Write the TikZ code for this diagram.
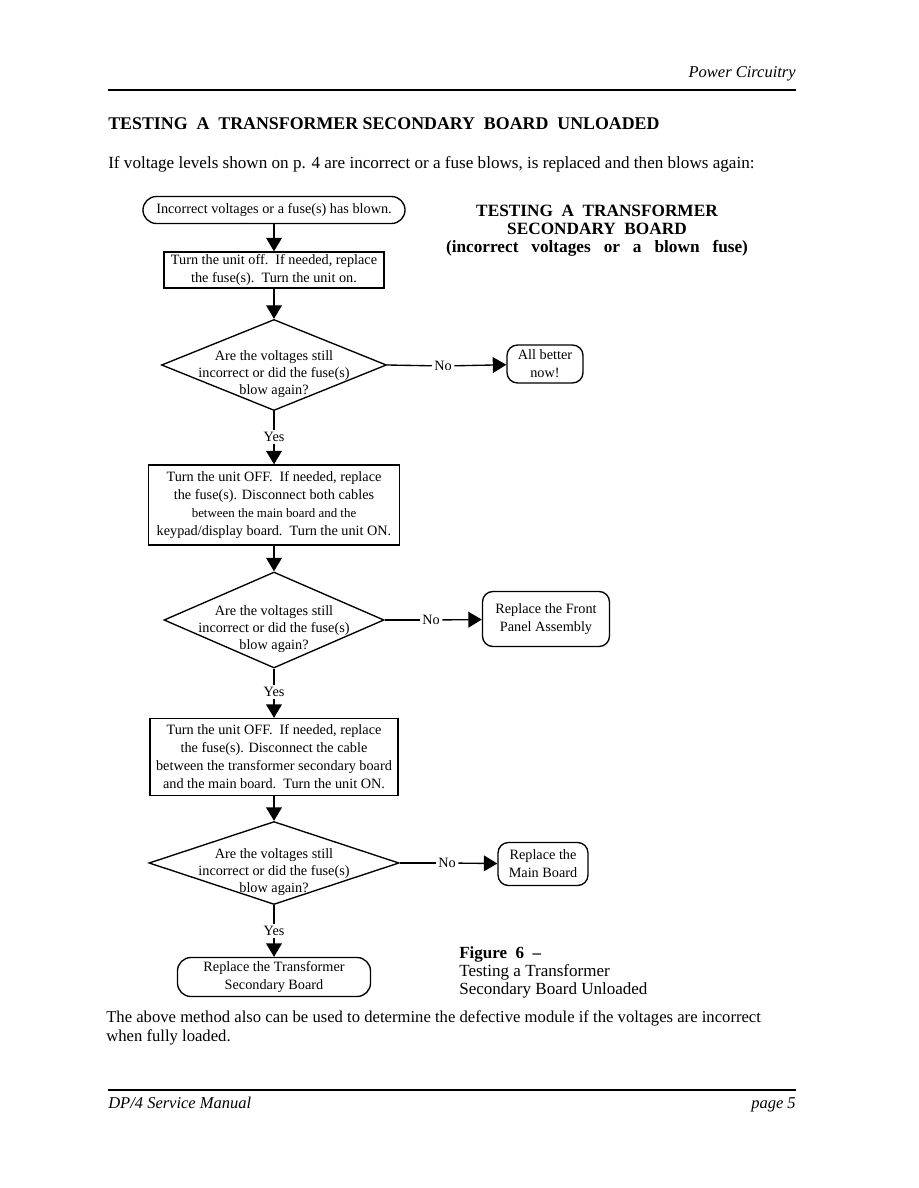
\documentclass[tikz,border=0pt]{standalone}
\usepackage{fontspec}
\setmainfont{Liberation Serif}
\usetikzlibrary{shapes.geometric, arrows.meta, positioning}
\tikzset{
  >=Triangle,
  flowarrow/.style={-{Triangle[length=9pt, width=10.5pt]}, line width=0.9pt, black},
  flowline/.style={line width=0.9pt, black},
  chartfont/.style={font=\fontsize{9.5}{12}\selectfont, align=center},
  actionbox/.style={draw, line width=0.9pt, chartfont, inner sep=0pt},
  endbox/.style={actionbox, rounded corners=7pt},
  decision/.style={draw, diamond, line width=0.9pt, inner sep=0pt},
  asktext/.style={chartfont, font=\fontsize{9.5}{11.3}\selectfont, inner sep=0pt},
  branchlabel/.style={font=\fontsize{9.5}{11}\selectfont, inner sep=1.5pt},
  pagetext/.style={font=\fontsize{11.1}{12.7}\selectfont, align=left, inner sep=0pt}
}
\begin{document}
\begin{tikzpicture}[x=0.6667pt, y=-0.6667pt]
    \useasboundingbox (0,0) rectangle (918,1188);

    % page header and footer
    \node (header) [anchor=base east, inner sep=0pt, font=\fontsize{11}{12}\selectfont\itshape] at (796,78) {Power Circuitry};
    \draw[line width=1.4pt] (108,90) -- (796,90);
    \draw[line width=1.4pt] (108,1090) -- (796,1090);
    \node (manual) [anchor=base west, inner sep=0pt, font=\fontsize{11}{12}\selectfont\itshape] at (108,1108) {DP/4 Service Manual};
    \node (pageno) [anchor=base east, inner sep=0pt, font=\fontsize{11}{12}\selectfont\itshape] at (796,1108) {page 5};

    % page text
    \node (title) [anchor=base west, inner sep=0pt, font=\fontsize{11.9}{14}\selectfont\bfseries] at (108,130) {TESTING\ \ A\ \ TRANSFORMER SECONDARY\ \ BOARD\ \ UNLOADED};
    \node (intro) [anchor=base west, pagetext, font=\fontsize{11.4}{12.7}\selectfont] at (108,169) {If voltage levels shown on p. 4 are incorrect or a fuse blows, is replaced and then blows again:};
    \node (charttitle) [align=center, inner sep=0pt, font=\fontsize{11.5}{12}\selectfont\bfseries] at (597,231) {TESTING\ \ A\ \ TRANSFORMER\\SECONDARY\ \ BOARD\\(incorrect\hspace{0.75em}voltages\hspace{0.75em}or\hspace{0.75em}a\hspace{0.75em}blown\hspace{0.75em}fuse)};
    \node (caption) [anchor=north west, pagetext, font=\fontsize{11.35}{12}\selectfont] at (459,946) {\textbf{Figure\ \ 6\ \ --}\\Testing a Transformer\\Secondary Board Unloaded};
    \node (outro) [anchor=north west, pagetext] at (106,1010) {The above method also can be used to determine the defective module if the voltages are incorrect\\when fully loaded.};

    % flow chart
    \node (start) [endbox, rounded corners=9pt, minimum width=174.7pt, minimum height=18pt] at (274,210) {Incorrect voltages or a fuse(s) has blown.};
    \node (power) [actionbox, minimum width=146.7pt, minimum height=24pt] at (274,270) {Turn the unit off.\ \ If needed, replace\\the fuse(s).\ \ Turn the unit on.};
    \node (ask1) [decision, minimum width=150pt, minimum height=60.7pt] at (274,365) {};
    \node (ask1txt) [asktext] at ([yshift=-6pt]ask1.center) {Are the voltages still\\incorrect or did the fuse(s)\\blow again?};
    \node (no1) [branchlabel] at (443,366) {No};
    \node (better) [endbox, minimum width=50.7pt, minimum height=25.3pt] at (545,364) {All better\\now!};
    \node (yes1) [branchlabel] at (274,437) {Yes};

    \node (keypad) [actionbox, minimum width=167.3pt, minimum height=53.3pt] at (274,505) {Turn the unit OFF.\ \ If needed, replace\\the fuse(s). Disconnect both cables\\{\fontsize{8.6}{12}\selectfont between the main board and the}\\keypad/display board.\ \ Turn the unit ON.};
    \node (ask2) [decision, minimum width=146.7pt, minimum height=64pt] at (274,620) {};
    \node (ask2txt) [asktext] at ([yshift=-6pt]ask2.center) {Are the voltages still\\incorrect or did the fuse(s)\\blow again?};
    \node (no2) [branchlabel] at (431,620) {No};
    \node (front) [endbox, minimum width=84.7pt, minimum height=36.7pt] at (546,619) {Replace the Front\\Panel Assembly};
    \node (yes2) [branchlabel] at (274,692) {Yes};

    \node (cable) [actionbox, minimum width=165.3pt, minimum height=51.3pt] at (274,757) {Turn the unit OFF.\ \ If needed, replace\\the fuse(s). Disconnect the cable\\between the transformer secondary board\\and the main board.\ \ Turn the unit ON.};
    \node (ask3) [decision, minimum width=166.7pt, minimum height=55.3pt] at (274,863) {};
    \node (ask3txt) [asktext] at ([yshift=-6pt]ask3.center) {Are the voltages still\\incorrect or did the fuse(s)\\blow again?};
    \node (no3) [branchlabel] at (447,863) {No};
    \node (mainbd) [endbox, minimum width=60pt, minimum height=28.7pt] at (543,864) {Replace the\\Main Board};
    \node (yes3) [branchlabel] at (274,931) {Yes};
    \node (secbd) [endbox, rounded corners=9pt, minimum width=128.7pt, minimum height=26pt] at (274,977) {Replace the Transformer\\Secondary Board};

    \draw[flowarrow] (start) -- (power);
    \draw[flowarrow] (power) -- (ask1.north);
    \draw[flowline] (ask1.east) -- (no1);
    \draw[flowarrow] (no1) -- (better);
    \draw[flowline] (ask1.south) -- (yes1);
    \draw[flowarrow] (yes1) -- (keypad);
    \draw[flowarrow] (keypad) -- (ask2.north);
    \draw[flowline] (ask2.east) -- (no2);
    \draw[flowarrow] (no2) -- (front);
    \draw[flowline] (ask2.south) -- (yes2);
    \draw[flowarrow] (yes2) -- (cable);
    \draw[flowarrow] (cable) -- (ask3.north);
    \draw[flowline] (ask3.east) -- (no3);
    \draw[flowarrow] (no3) -- (mainbd);
    \draw[flowline] (ask3.south) -- (yes3);
    \draw[flowarrow] (yes3) -- (secbd);
\end{tikzpicture}
\end{document}
